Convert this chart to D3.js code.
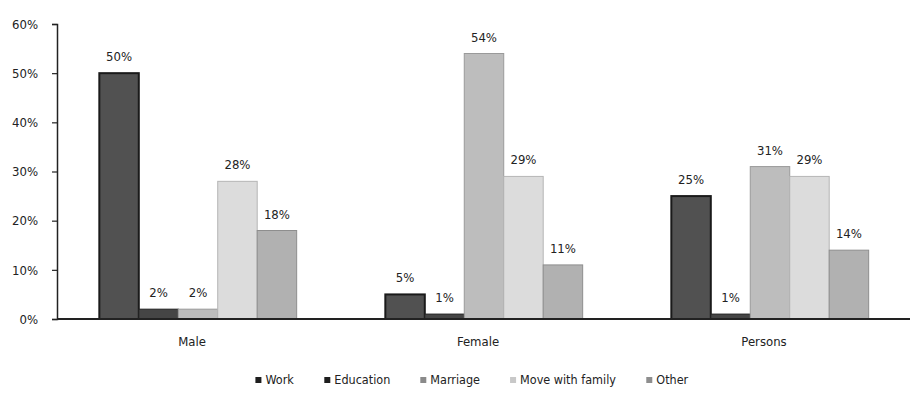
<!DOCTYPE html>
<html>
<head>
<meta charset="utf-8">
<script src="https://cdn.jsdelivr.net/npm/d3@7/dist/d3.min.js"></script>
<style>
  html, body { margin: 0; padding: 0; background: #fff; }
  svg { display: block; }
  text { font-family: "DejaVu Sans Condensed", "DejaVu Sans", sans-serif; fill: #222; }
</style>
</head>
<body>
<svg id="chart" width="910" height="403"></svg>
<script>
// ---- data ----
const categories = ["Male", "Female", "Persons"];
const seriesNames = ["Work", "Education", "Marriage", "Move with family", "Other"];
const work = [50, 5, 25];
const education = [2, 1, 1];
const marriage = [2, 54, 31];
const moveWithFamily = [28, 29, 29];
const other = [18, 11, 14];
const yTicks = [0, 10, 20, 30, 40, 50, 60];

const seriesValues = [work, education, marriage, moveWithFamily, other];
const fills = ["#515151", "#454545", "#bdbdbd", "#dcdcdc", "#b1b1b1"];
const strokes = ["#1a1a1a", "#222222", "#9a9a9a", "#b5b5b5", "#8e8e8e"];
const legendFills = ["#1e1e1e", "#1e1e1e", "#8a8a8a", "#c8c8c8", "#8e8e8e"];

const svg = d3.select("#chart");
const axisX = 57, baseY = 319, topY = 24;

const y = d3.scaleLinear().domain([0, 60]).range([baseY, topY]);
const x0 = d3.scaleBand().domain(categories).range([55, 913]).paddingInner(0.31).paddingOuter(0.155);
const x1 = d3.scaleBand().domain(seriesNames).range([0, x0.bandwidth()]).padding(0);

// y axis
const yAxis = d3.axisLeft(y).tickValues(yTicks).tickFormat(d => d + "%").tickSize(5).tickPadding(14);
const gy = svg.append("g").attr("transform", `translate(${axisX},0)`).call(yAxis);
gy.select(".domain").attr("stroke", "#222").attr("stroke-width", 1.5);
gy.selectAll(".tick line").attr("stroke", "#222").attr("stroke-width", 1.2);
gy.selectAll(".tick text").style("font-size", "13px").style("font-family", "'DejaVu Sans Condensed', sans-serif").attr("fill", "#222");

// bars
const groups = svg.append("g").selectAll("g").data(categories).join("g")
  .attr("transform", d => `translate(${x0(d)},0)`);

groups.each(function(cat, ci) {
  const g = d3.select(this);
  const rows = seriesNames.map((s, si) => ({ s, si, v: seriesValues[si][ci] }));
  g.selectAll("rect").data(rows).join("rect")
    .attr("x", d => x1(d.s))
    .attr("y", d => y(d.v))
    .attr("width", x1.bandwidth())
    .attr("height", d => baseY - y(d.v))
    .attr("fill", d => fills[d.si])
    .attr("stroke", d => strokes[d.si])
    .attr("stroke-width", d => d.si === 0 ? 2 : 1);
  g.selectAll("text").data(rows).join("text")
    .attr("x", d => x1(d.s) + x1.bandwidth() / 2)
    .attr("y", d => y(d.v) - 12)
    .attr("text-anchor", "middle")
    .style("font-size", "13px")
    .text(d => d.v + "%");
});

// x axis baseline
svg.append("line")
  .attr("x1", axisX).attr("x2", 910)
  .attr("y1", baseY).attr("y2", baseY)
  .attr("stroke", "#222").attr("stroke-width", 2);

// category labels
svg.append("g").selectAll("text").data(categories).join("text")
  .attr("x", d => x0(d) + x0.bandwidth() / 2 - 6)
  .attr("y", baseY + 27)
  .attr("text-anchor", "middle")
  .style("font-size", "13px")
  .text(d => d);

// legend
const legend = svg.append("g");
const items = legend.selectAll("g").data(seriesNames).join("g");
items.append("rect").attr("width", 6).attr("height", 6).attr("y", -7)
  .attr("fill", (d, i) => legendFills[i]);
items.append("text").attr("x", 10).attr("y", 0).style("font-size", "12.5px").text(d => d);
let cx = 0;
const gap = 30;
items.each(function() {
  const w = this.getBBox().width;
  d3.select(this).attr("transform", `translate(${cx},0)`);
  cx += w + gap;
});
const totalW = cx - gap;
legend.attr("transform", `translate(${472 - totalW / 2},384)`);
</script>
</body>
</html>
